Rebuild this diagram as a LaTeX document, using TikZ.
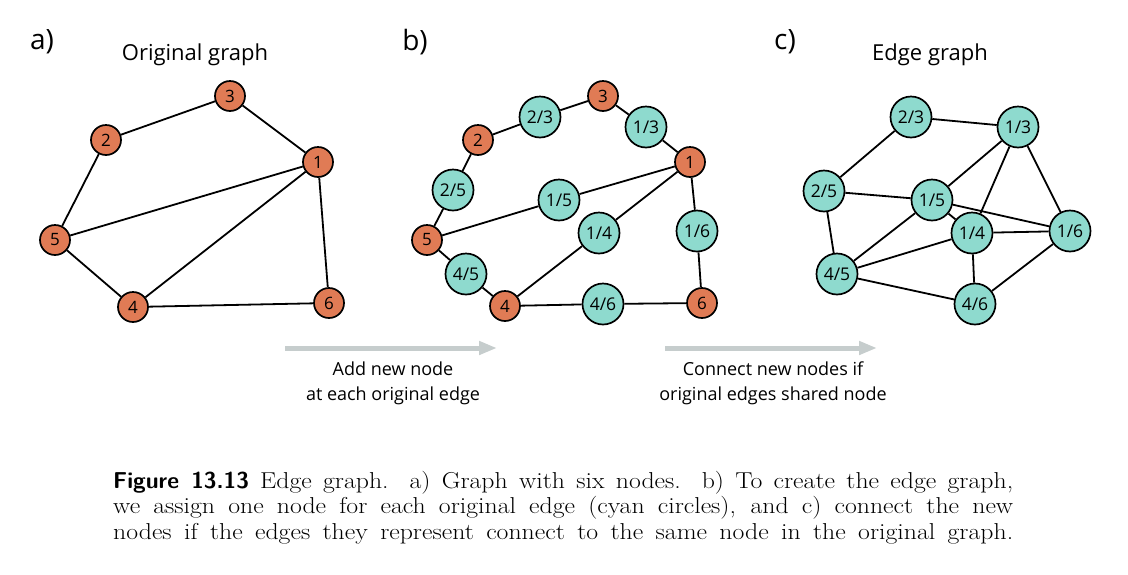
\documentclass[tikz,border=0pt]{standalone}
\usepackage{fontspec}
\usepackage{xcolor}
\usepackage{tikz}
\usetikzlibrary{arrows.meta}
\setmainfont{Latin Modern Roman}[FakeStretch=1.12]
\newfontfamily\labelfont{Open Sans}
\definecolor{nodeorange}{RGB}{224,123,85}
\definecolor{nodecyan}{RGB}{142,218,206}
\definecolor{arrowgray}{RGB}{198,205,205}
\tikzset{
  orignode/.style={circle, draw=black, fill=nodeorange, line width=1.7pt,
    minimum size=30pt, inner sep=0pt, font=\labelfont\fontsize{17}{17}\selectfont},
  edgenode/.style={circle, draw=black, fill=nodecyan, line width=1.7pt,
    minimum size=41pt, inner sep=0pt, font=\labelfont\fontsize{17.5}{17.5}\selectfont},
  link/.style={line width=1.8pt, color=black},
  stagearrow/.style={-{Triangle[length=18pt,width=13pt]}, line width=5pt, color=arrowgray},
  paneltag/.style={font=\labelfont\fontsize{28}{28}\selectfont},
  paneltitle/.style={font=\labelfont\fontsize{22}{22}\selectfont},
  stepnote/.style={align=center, font=\labelfont\fontsize{18}{25}\selectfont}
}

\begin{document}
\begin{tikzpicture}[x=1pt, y=-1pt]
  \useasboundingbox (0,0) rectangle (1128,574);

  % Panel a: original graph
  \node[paneltag] (taga) at (42,42) {a)};
  \node[paneltitle] (titlea) at (195,55) {Original graph};
  \node[orignode] (a1) at (318,162) {1};
  \node[orignode] (a2) at (106,140) {2};
  \node[orignode] (a3) at (230,96) {3};
  \node[orignode] (a4) at (133,307) {4};
  \node[orignode] (a5) at (55,240) {5};
  \node[orignode] (a6) at (329,303) {6};
  \draw[link] (a2) -- (a3);
  \draw[link] (a3) -- (a1);
  \draw[link] (a2) -- (a5);
  \draw[link] (a5) -- (a1);
  \draw[link] (a5) -- (a4);
  \draw[link] (a4) -- (a1);
  \draw[link] (a1) -- (a6);
  \draw[link] (a4) -- (a6);

  % Panel b: one new node on each edge
  \node[paneltag] (tagb) at (415,42) {b)};
  \node[orignode] (b1) at (690,162) {1};
  \node[orignode] (b2) at (478,140) {2};
  \node[orignode] (b3) at (603,96) {3};
  \node[orignode] (b4) at (505,306) {4};
  \node[orignode] (b5) at (427,240) {5};
  \node[orignode] (b6) at (702,303) {6};
  \node[edgenode] (b23) at (540,117) {2/3};
  \node[edgenode] (b13) at (646,127) {1/3};
  \node[edgenode] (b25) at (453,190) {2/5};
  \node[edgenode] (b15) at (559,200) {1/5};
  \node[edgenode] (b14) at (599,233) {1/4};
  \node[edgenode] (b16) at (697,231) {1/6};
  \node[edgenode] (b45) at (466,274) {4/5};
  \node[edgenode] (b46) at (603,304) {4/6};
  \draw[link] (b2) -- (b23) -- (b3);
  \draw[link] (b3) -- (b13) -- (b1);
  \draw[link] (b2) -- (b25) -- (b5);
  \draw[link] (b5) -- (b15) -- (b1);
  \draw[link] (b5) -- (b45) -- (b4);
  \draw[link] (b4) -- (b14) -- (b1);
  \draw[link] (b1) -- (b16) -- (b6);
  \draw[link] (b4) -- (b46) -- (b6);

  % Panel c: edge graph
  \node[paneltag] (tagc) at (785,42) {c)};
  \node[paneltitle] (titlec) at (930,55) {Edge graph};
  \node[edgenode] (c23) at (911,117) {2/3};
  \node[edgenode] (c13) at (1018,127) {1/3};
  \node[edgenode] (c25) at (824,191) {2/5};
  \node[edgenode] (c15) at (932,200) {1/5};
  \node[edgenode] (c14) at (972,233) {1/4};
  \node[edgenode] (c16) at (1070,231) {1/6};
  \node[edgenode] (c45) at (837,274) {4/5};
  \node[edgenode] (c46) at (975,304) {4/6};
  \draw[link] (c23) -- (c13);
  \draw[link] (c23) -- (c25);
  \draw[link] (c25) -- (c15);
  \draw[link] (c25) -- (c45);
  \draw[link] (c13) -- (c15);
  \draw[link] (c13) -- (c14);
  \draw[link] (c13) -- (c16);
  \draw[link] (c15) -- (c14);
  \draw[link] (c15) -- (c16);
  \draw[link] (c15) -- (c45);
  \draw[link] (c14) -- (c16);
  \draw[link] (c14) -- (c45);
  \draw[link] (c14) -- (c46);
  \draw[link] (c16) -- (c46);
  \draw[link] (c45) -- (c46);

  % Step arrows
  \coordinate (s1) at (285,348);
  \coordinate (e1) at (497,348);
  \draw[stagearrow] (s1) -- (e1);
  \node[stepnote] (note1) at (393,383) {Add new node\\at each original edge};
  \coordinate (s2) at (665,348);
  \coordinate (e2) at (877,348);
  \draw[stagearrow] (s2) -- (e2);
  \node[stepnote] (note2) at (773,383) {Connect new nodes if\\original edges shared node};

  % Caption
  \node[anchor=north west, text width=900pt, align=justify, inner sep=0pt,
    font=\fontsize{23}{25.5}\selectfont] (caption) at (113,471)
    {{\sffamily\bfseries Figure 13.13} Edge graph. a) Graph with six nodes. b) To create the edge graph,\linebreak
     we assign one node for each original edge (cyan circles), and c) connect the new\linebreak
     nodes if the edges they represent connect to the same node in the original graph.\parfillskip=0pt\par};
\end{tikzpicture}
\end{document}
